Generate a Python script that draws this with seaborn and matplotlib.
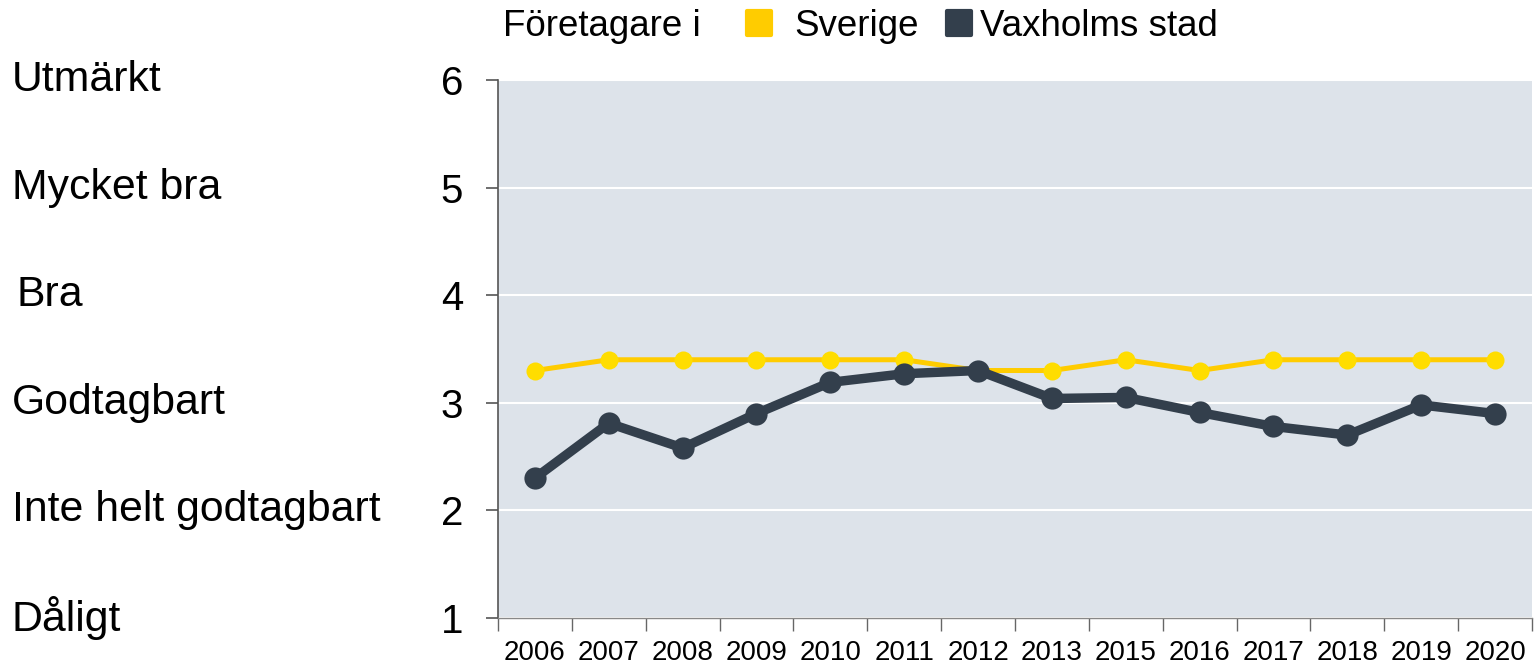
import matplotlib
matplotlib.use("Agg")
import matplotlib.pyplot as plt
import pandas as pd
import seaborn as sns
from matplotlib.lines import Line2D
from matplotlib.markers import MarkerStyle

YEARS = ["2006", "2007", "2008", "2009", "2010", "2011", "2012",
         "2013", "2015", "2016", "2017", "2018", "2019", "2020"]
SVERIGE = [3.3, 3.4, 3.4, 3.4, 3.4, 3.4, 3.3, 3.3, 3.4, 3.3, 3.4, 3.4, 3.4, 3.4]
VAXHOLM = [2.30, 2.81, 2.58, 2.90, 3.19, 3.27, 3.30, 3.04, 3.05, 2.91, 2.78, 2.70, 2.98, 2.90]
GRADES = ["Dåligt", "Inte helt godtagbart", "Godtagbart", "Bra", "Mycket bra", "Utmärkt"]
GRADE_VALUES = [1, 2, 3, 4, 5, 6]

YELLOW_LINE = "#ffcc00"
YELLOW_MARK = "#ffdd00"
DARK = "#333f4c"
BG = "#dde3ea"

sns.set_theme(style="white")
plt.rcParams["font.family"] = ["Liberation Sans", "DejaVu Sans"]
plt.rcParams["text.color"] = "black"
plt.rcParams["xtick.labelcolor"] = "black"
plt.rcParams["ytick.labelcolor"] = "black"

df = pd.DataFrame({"year": YEARS, "Sverige": SVERIGE, "Vaxholms stad": VAXHOLM})
pos = list(range(len(YEARS)))
df["pos"] = pos

fig = plt.figure(figsize=(15.34, 6.64), dpi=100)
ax = fig.add_axes([0.3246, 0.0693, 0.6741, 0.8102])
ax.set_facecolor(BG)

sns.lineplot(data=df, x="pos", y="Sverige", color=YELLOW_LINE, linewidth=3.6,
             marker="o", markersize=13, markerfacecolor=YELLOW_MARK,
             markeredgewidth=0, ax=ax, zorder=3)
sns.lineplot(data=df, x="pos", y="Vaxholms stad", color=DARK, linewidth=6.8,
             marker="o", markersize=16, markerfacecolor=DARK,
             markeredgewidth=0, ax=ax, zorder=4)

ax.set_xlim(-0.5, len(YEARS) - 0.5)
ax.set_ylim(1, 6)
ax.set_yticks(GRADE_VALUES)
ax.set_yticklabels([str(v) for v in GRADE_VALUES])
ax.yaxis.grid(True, color="white", linewidth=1.5)
ax.set_axisbelow(True)

# ticks on category boundaries, labels at centres
ax.set_xticks([p - 0.5 for p in pos] + [len(YEARS) - 0.5])
ax.set_xticklabels([])
ax.set_xticks(pos, minor=True)
ax.set_xticklabels(YEARS, minor=True, fontsize=20)
ax.tick_params(axis="x", which="major", direction="out", length=9, width=1,
               color="#666666", bottom=True)
ax.tick_params(axis="x", which="minor", length=0, pad=16)
ax.tick_params(axis="y", direction="out", length=9, width=1.2, color="#555555",
               labelsize=29, pad=16, left=True)
ax.set_xlabel("")
ax.set_ylabel("")

for side in ["top", "right"]:
    ax.spines[side].set_visible(False)
ax.spines["left"].set_color("#555555")
ax.spines["left"].set_linewidth(1.2)
ax.spines["bottom"].set_color("#888888")
ax.spines["bottom"].set_linewidth(1)

# grade names on the far left
trans = ax.get_yaxis_transform()
for val, name in zip(GRADE_VALUES, GRADES):
    xoff = -0.466 if name == "Bra" else -0.47
    ax.text(xoff, val, name, transform=trans, ha="left", va="center", fontsize=30.8)

# legend row at the top
ly = 1 - 26 / 664
fig.text(503 / 1534, ly, "Företagare i", fontsize=26.5, ha="left", va="center")


def square(color):
    return Line2D([], [], linestyle="none",
                  marker=MarkerStyle("s", joinstyle="round"), markersize=17,
                  color=color, markeredgecolor=color, markeredgewidth=3)


fig.legend([square(YELLOW_LINE)], ["Sverige"], loc="center left",
           bbox_to_anchor=(743 / 1534, ly), frameon=False, fontsize=26.5,
           handlelength=0.85, handletextpad=0.55, borderpad=0,
           borderaxespad=0)
fig.legend([square(DARK)], ["Vaxholms stad"], loc="center left",
           bbox_to_anchor=(943 / 1534, ly), frameon=False, fontsize=26.5,
           handlelength=0.85, handletextpad=0.15, borderpad=0,
           borderaxespad=0)

fig.savefig("out.png", dpi=100)
